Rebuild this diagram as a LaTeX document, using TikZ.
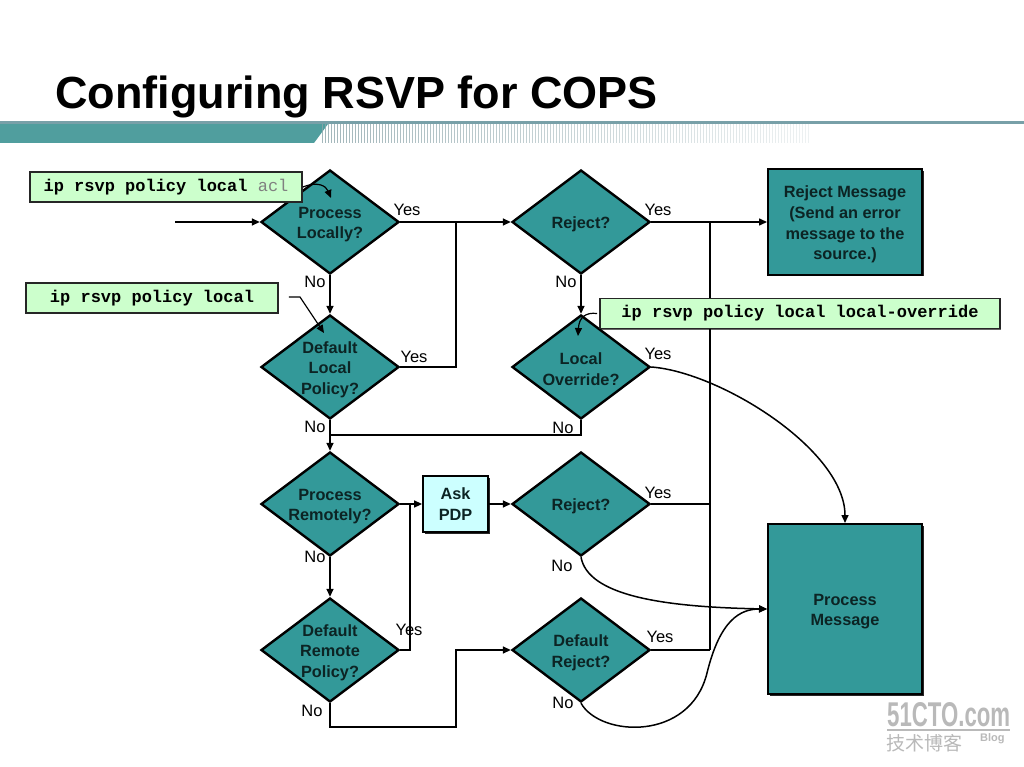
\documentclass[tikz,border=0pt]{standalone}
\usepackage{fontspec}
\setmainfont{Liberation Sans}
\setmonofont{Liberation Mono}
\newfontfamily\cjk{Noto Sans CJK SC}
\usetikzlibrary{shapes.geometric,arrows.meta,shadows}
\definecolor{dteal}{RGB}{51,153,153}
\definecolor{dtxt}{RGB}{12,36,36}
\definecolor{lgreen}{RGB}{204,255,204}
\definecolor{lcyan}{RGB}{204,255,255}
\definecolor{bandteal}{RGB}{80,158,158}
\definecolor{bandgray}{RGB}{140,165,170}
\definecolor{linegray}{RGB}{120,160,168}
\definecolor{wmgray}{RGB}{185,185,185}
\begin{document}
\begin{tikzpicture}[x=1pt,y=-1pt,
  ln/.style={draw=black, line width=1.5pt},
  arr/.style={ln, -{Triangle[length=8pt,width=7pt]}},
  dia/.style={shape=diamond, draw=black, line width=2.4pt, fill=dteal,
    minimum width=138pt, minimum height=104pt, inner sep=0pt},
  dtext/.style={font=\bfseries\fontsize{16.3}{20.7}\selectfont, text=dtxt, align=center, inner sep=0pt, yshift=-2.5pt},
  tbox/.style={draw=black, line width=2pt, fill=dteal, inner sep=0pt,
    font=\bfseries\fontsize{16.3}{20.7}\selectfont, text=dtxt, align=center,
    drop shadow={shadow xshift=1.8pt, shadow yshift=-1.8pt, fill=black, opacity=0.85}},
  code/.style={draw=black!85, line width=1.8pt, fill=lgreen, inner sep=0pt,
    minimum height=30pt, font=\ttfamily\bfseries\fontsize{17}{17}\selectfont,
    drop shadow={shadow xshift=1.2pt, shadow yshift=-1.2pt, fill=black, opacity=0.6}},
  yn/.style={font=\fontsize{16.5}{16.5}\selectfont, inner sep=0pt}
]
\useasboundingbox (0,0) rectangle (1024,767);
\fill[white] (0,0) rectangle (1024,767);

% title and band
\node[anchor=base west, inner sep=0pt, font=\bfseries\fontsize{45}{45}\selectfont] (title) at (55,109) {Configuring RSVP for COPS};
\fill[bandteal] (0,124) -- (328,124) -- (314,143) -- (0,143) -- cycle;
\foreach \i in {0,...,162} {
  \pgfmathsetmacro{\op}{0.8-0.65*\i/162}
  \draw[line width=0.9pt, color=bandgray, opacity=\op] ({322+3*\i},124) -- ({322+3*\i},143);
}
\draw[line width=2.2pt, color=linegray] (0,122.5) -- (1024,122.5);

% decision diamonds
\node[dia, label={[dtext]center:Process\\Locally?}] (d1) at (330,222) {};
\node[dia, label={[dtext]center:Default\\Local\\Policy?}] (d2) at (330,367) {};
\node[dia, label={[dtext]center:Process\\Remotely?}] (d3) at (330,504) {};
\node[dia, label={[dtext]center:Default\\Remote\\Policy?}] (d4) at (330,650) {};
\node[dia, label={[dtext]center:Reject?}] (d5) at (581,222) {};
\node[dia, label={[dtext]center:Local\\Override?}] (d6) at (581,367) {};
\node[dia, label={[dtext]center:Reject?}] (d7) at (581,504) {};
\node[dia, label={[dtext]center:Default\\Reject?}] (d8) at (581,650) {};

% boxes
\node[tbox, minimum width=154pt, minimum height=105pt,
  label={[dtext]center:Reject Message\\(Send an error\\message to the\\source.)}] (rm) at (845,222) {};
\node[tbox, minimum width=154pt, minimum height=170pt,
  label={[dtext]center:Process\\Message}] (pm) at (845,609) {};
\node[tbox, fill=lcyan, line width=1.8pt, minimum width=65pt, minimum height=56pt] (pdp) at (455.5,504) {Ask\\PDP};

% junction points
\coordinate (in) at (175,222);
\coordinate (j1) at (456,222);
\coordinate (j2) at (330,435);
\coordinate (j3) at (410,504);
\coordinate (j4) at (456,727);
\coordinate (v1) at (710,222);
\coordinate (v2) at (710,650);

% connectors
\draw[arr] (in) -- (d1.west);
\draw[arr] (d1.east) -- (d5.west);
\draw[ln] (d2.east) -| (j1);
\draw[arr] (d1.south) -- (d2.north);
\draw[arr] (d2.south) -- (d3.north);
\draw[ln] (d6.south) |- (j2);
\draw[arr] (d5.east) -- (rm.west);
\draw[ln] (v1) -- (v2);
\draw[ln] (d7.east) -- (d7.east -| v1);
\draw[ln] (d8.east) -- (v2);
\draw[arr] (d5.south) -- (d6.north);
\draw[arr] (d6.east) .. controls (720,372) and (845,450) .. (pm.north);
\draw[arr] (d3.east) -- (pdp.west);
\draw[ln] (d4.east) -| (j3);
\draw[arr] (pdp.east) -- (d7.west);
\draw[arr] (d3.south) -- (d4.north);
\draw[arr] (d7.south) .. controls (588,595) and (660,607) .. (pm.west);
\draw[arr] (d4.south) |- (j4) |- (d8.west);
\draw[arr] (d8.south) .. controls (600,737) and (690,742) .. (707,673) .. controls (720,620) and (740,609) .. (pm.west);

% yes / no labels
\node[yn] (y1) at (407,210) {Yes};
\node[yn] (n1) at (315,282) {No};
\node[yn] (y2) at (414,357) {Yes};
\node[yn] (n2) at (315,427) {No};
\node[yn] (y5) at (658,210) {Yes};
\node[yn] (n5) at (566,282) {No};
\node[yn] (y6) at (658,354) {Yes};
\node[yn] (n6) at (563,428) {No};
\node[yn] (n3) at (315,557) {No};
\node[yn] (y4) at (409,630) {Yes};
\node[yn] (n4) at (312,711) {No};
\node[yn] (y7) at (658,493) {Yes};
\node[yn] (n7) at (562,566) {No};
\node[yn] (y8) at (660,637) {Yes};
\node[yn] (n8) at (563,703) {No};

% command callouts
\node[code, minimum width=272pt] (c1) at (166,187) {ip rsvp policy local \textcolor{black!50}{\mdseries acl}};
\node[code, minimum width=252pt] (c2) at (152,298) {ip rsvp policy local};
\node[code, minimum width=400pt] (c3) at (800,313.5) {ip rsvp policy local local-override};
\draw[arr, line width=1.2pt] (c1.east) .. controls (318,181) and (326,186) .. (331,198);
\draw[arr, line width=1.2pt] (c2.east) ++(10,-1) -- (300,297) -- (324,333);
\draw[arr, line width=1.2pt] (c3.west) ++(-2,0) .. controls (585,312) and (579,318) .. (578,336);

% watermark
\node[anchor=south west, inner sep=0pt, text=wmgray] (wm1) at (887,727) {\resizebox{123pt}{24pt}{\bfseries 51CTO.com}};
\draw[wmgray, line width=1.5pt] (887,730) -- (1010,730);
\node[anchor=west, inner sep=0pt, text=wmgray, font=\cjk\fontsize{19}{19}\selectfont] (wm2) at (886,743) {技术博客};
\node[anchor=west, inner sep=0pt, text=wmgray, font=\bfseries\fontsize{11}{11}\selectfont] (wm3) at (980,739) {Blog};
\end{tikzpicture}
\end{document}
